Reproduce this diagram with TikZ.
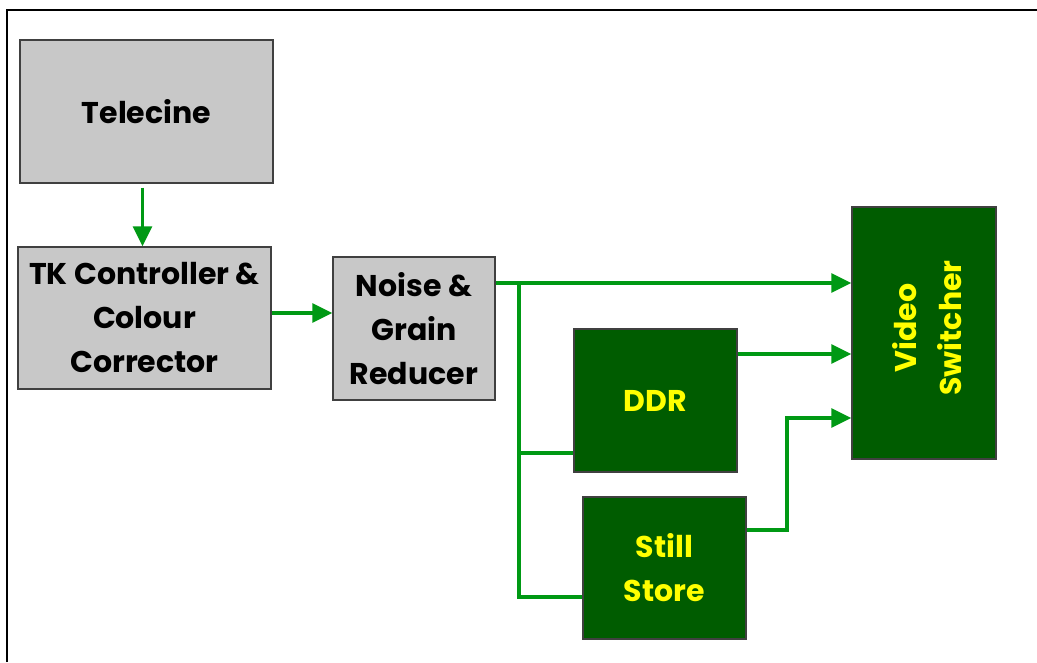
\documentclass[tikz,border=0pt]{standalone}
\usepackage{fontspec}
\setmainfont{Poppins}
\usetikzlibrary{arrows.meta}

\definecolor{boxgrey}{RGB}{200,200,200}
\definecolor{darkgreen}{RGB}{0,92,0}
\definecolor{wiregreen}{RGB}{0,153,20}
\definecolor{labelyellow}{RGB}{255,255,0}

\begin{document}
\begin{tikzpicture}[x=0.75pt, y=-0.75pt,
    unit/.style={draw=black!75, line width=0.9pt, align=center, inner sep=0pt,
      font=\fontsize{22.5}{33}\selectfont\bfseries},
    greyunit/.style={unit, fill=boxgrey, text=black},
    greenunit/.style={unit, fill=darkgreen, text=labelyellow},
    wire/.style={wiregreen, line width=2.6pt},
    link/.style={wire, -{Triangle[length=15pt, width=14pt]}}]
  \useasboundingbox (0,0) rectangle (1037,662);
  % the frame, open at the right and at the bottom
  \draw[line width=1.6pt] (7,662) -- (7,10) -- (1037,10);
  % the units
  \node[greyunit, minimum width=189.75pt, minimum height=107.25pt] (tele) at (146.5,111.5) {Telecine};
  \node[greyunit, minimum width=189.75pt, minimum height=106.5pt] (tk) at (144.5,318) {TK Controller \&\\Colour\\Corrector};
  \node[greyunit, minimum width=121.5pt, minimum height=107.25pt] (noise) at (414,328.5) {Noise \&\\Grain\\ Reducer};
  \node[greenunit, minimum width=122.25pt, minimum height=107.25pt] (ddr) at (655.5,400.5) {DDR};
  \node[greenunit, minimum width=122.25pt, minimum height=106.5pt] (still) at (664.5,568) {Still\\Store};
  \node[greenunit, minimum width=108pt, minimum height=189pt] (switch) at (924,333) {};
  \node[text=labelyellow, align=center, rotate=90, font=\fontsize{22.5}{34}\selectfont\bfseries] (switchlabel) at (927,328) {Video\\Switcher};
  % the bus out of the noise reducer
  \coordinate (split) at (519,283);
  \coordinate (tap) at (519,453);
  \coordinate (foot) at (519,597);
  \coordinate (bend) at (787,418);
  % the connections
  \draw[link, shorten <=3pt] ([xshift=-3pt]tele.south) -- ([xshift=-3pt]tele.south |- tk.north);
  \draw[link] ([yshift=3.75pt]tk.east) -- ([yshift=3.75pt]tk.east -| noise.west);
  \draw[link] (noise.east |- split) -- (split -| switch.west);
  \draw[wire] (split) -- (foot) -- (foot -| still.west);
  \draw[wire] (tap) -- (tap -| ddr.west);
  \draw[link] ([yshift=34.875pt]ddr.east) -- ([yshift=34.875pt]ddr.east -| switch.west);
  \draw[link] ([yshift=28.5pt]still.east) -| (bend) -- (bend -| switch.west);
\end{tikzpicture}
\end{document}
